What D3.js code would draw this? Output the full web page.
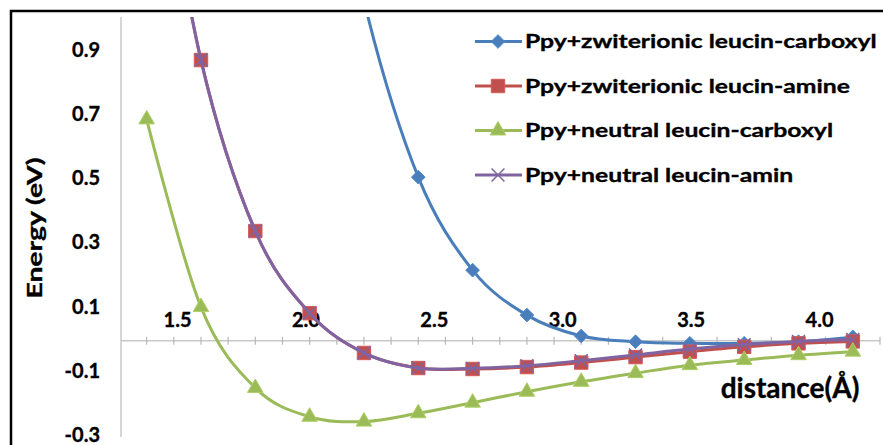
<!DOCTYPE html>
<html>
<head>
<meta charset="utf-8">
<script src="https://cdn.jsdelivr.net/npm/d3@7"></script>
<style>
  body { margin: 0; background: #fff; }
  text { font-family: Lato, 'Open Sans', sans-serif; font-weight: bold; fill: #000; stroke: #000; stroke-width: 0.35; }
</style>
</head>
<body>
<svg width="883" height="445"></svg>
<script>
const distance = [1.4, 1.6, 1.8, 2.0, 2.2, 2.4, 2.6, 2.8, 3.0, 3.2, 3.4, 3.6, 3.8, 4.0];

const zwitCarboxyl = [null, null, null, 1.9, 1.06, 0.51, 0.22, 0.08, 0.015, -0.003, -0.008, -0.008, -0.003, 0.012];
const zwitAmine = [1.8, 0.875, 0.342, 0.086, -0.038, -0.085, -0.088, -0.082, -0.068, -0.051, -0.034, -0.019, -0.008, -0.002];
const neutCarboxyl = [0.69, 0.105, -0.147, -0.237, -0.252, -0.226, -0.193, -0.159, -0.128, -0.101, -0.076, -0.06, -0.045, -0.034];
const neutAmin = [1.8, 0.875, 0.342, 0.086, -0.038, -0.085, -0.086, -0.078, -0.062, -0.044, -0.026, -0.012, -0.002, 0.004];

const seriesNames = [
    'Ppy+zwiterionic leucin-carboxyl',
    'Ppy+zwiterionic leucin-amine',
    'Ppy+neutral leucin-carboxyl',
    'Ppy+neutral leucin-amin'
];
const yTicks = [-0.3, -0.1, 0.1, 0.3, 0.5, 0.7, 0.9];
const xTickLabels = [1.5, 2.0, 2.5, 3.0, 3.5, 4.0];

const svg = d3.select('svg');

const series = [
    {name: seriesNames[0], values: zwitCarboxyl, color: '#4a7ebb', marker: 'diamond'},
    {name: seriesNames[1], values: zwitAmine, color: '#c0504d', marker: 'square'},
    {name: seriesNames[2], values: neutCarboxyl, color: '#9bbb59', marker: 'triangle'},
    {name: seriesNames[3], values: neutAmin, color: '#8064a2', marker: 'cross'}
];

const plot = {left: 121, right: 880, top: 17, bottom: 437};

const xScale = d3.scaleLinear().domain([1.3, 4.1]).range([119.5, 880]);
const yScale = d3.scaleLinear().domain([-0.3, 1.0]).range([437, 19.95]);
// tick labels in the source sit on their own spacing
const labelScale = d3.scaleLinear().domain([1.5, 4.0]).range([177, 819]);

// plain hyphen minus, like the source
const fmt = d => d.toFixed(1);

// stretch text horizontally to match the source glyph widths
const stretch = (sel, k) => sel.each(function () {
    const len = this.getComputedTextLength();
    d3.select(this).attr('textLength', len * k).attr('lengthAdjust', 'spacingAndGlyphs');
});

// frame
svg.append('rect')
    .attr('x', 11).attr('y', 11)
    .attr('width', 890).attr('height', 450)
    .attr('fill', 'none')
    .attr('stroke', '#000')
    .attr('stroke-width', 2.5);

// y axis
const yAxisG = svg.append('g').attr('transform', `translate(${plot.left},-2)`)
    .call(d3.axisLeft(yScale).tickValues(yTicks).tickSize(0).tickPadding(21)
        .tickFormat(fmt));
yAxisG.select('.domain').remove();
yAxisG.selectAll('text')
    .attr('font-size', 20)
    .attr('font-family', null)
    .attr('fill', null);
svg.append('line')
    .attr('x1', plot.left).attr('x2', plot.left)
    .attr('y1', plot.top).attr('y2', plot.bottom)
    .attr('stroke', '#c8c8c8').attr('stroke-width', 1.5);

// x axis at zero
const xAxisG = svg.append('g').attr('transform', `translate(0,${yScale(0)})`);
xAxisG.append('line')
    .attr('x1', plot.left).attr('x2', plot.right)
    .attr('stroke', '#c8c8c8').attr('stroke-width', 1.5);
xAxisG.selectAll('.tick-mark')
    .data(d3.range(14, 42).map(i => i / 10))
    .join('line')
    .attr('class', 'tick-mark')
    .attr('x1', d => xScale(d)).attr('x2', d => xScale(d))
    .attr('y1', -4).attr('y2', 4)
    .attr('stroke', '#b8b8b8').attr('stroke-width', 1.2);

svg.append('g').attr('transform', `translate(0,${yScale(0) - 16})`)
    .call(d3.axisTop(labelScale).tickValues(xTickLabels).tickSize(0).tickPadding(0)
        .tickFormat(fmt))
    .call(g => g.select('.domain').remove())
    .selectAll('text')
    .attr('font-size', 20)
    .attr('font-family', null)
    .attr('fill', null)
    .attr('dy', '0.1em');

// series
svg.append('clipPath').attr('id', 'plot-clip')
    .append('rect')
    .attr('x', plot.left).attr('y', plot.top)
    .attr('width', plot.right - plot.left).attr('height', plot.bottom - plot.top);

const lineGen = d3.line()
    .defined(d => d[1] !== null)
    .x(d => xScale(d[0]))
    .y(d => yScale(d[1]))
    .curve(d3.curveCatmullRom.alpha(0));

const markerPath = {
    diamond: d3.symbol(d3.symbolDiamond2, 120),
    square: d3.symbol(d3.symbolSquare, 180),
    triangle: d3.symbol(d3.symbolTriangle, 105),
    cross: d3.symbol(d3.symbolTimes, 110)
};

const drawMarker = (sel, s) => {
    const isCross = s.marker === 'cross';
    sel.attr('d', markerPath[s.marker])
        .attr('fill', isCross ? 'none' : s.color)
        .attr('stroke', isCross ? s.color : d3.color(s.color).brighter(0.3))
        .attr('stroke-width', isCross ? 1.5 : 1);
};

const plotG = svg.append('g').attr('clip-path', 'url(#plot-clip)');

series.forEach(s => {
    const pts = distance.map((d, i) => [d, s.values[i]]);
    const g = plotG.append('g');
    g.append('path')
        .attr('d', lineGen(pts))
        .attr('fill', 'none')
        .attr('stroke', s.color)
        .attr('stroke-width', 3);
    g.selectAll('path.marker')
        .data(pts.filter(p => p[1] !== null))
        .join('path')
        .attr('class', 'marker')
        .attr('transform', p => `translate(${xScale(p[0])},${yScale(p[1])})`)
        .call(drawMarker, s);
});

// legend
const legendY = d3.scalePoint().domain(seriesNames).range([41.5, 175]);
const legend = svg.append('g');
series.forEach(s => {
    const row = legend.append('g').attr('transform', `translate(0,${legendY(s.name)})`);
    row.append('line')
        .attr('x1', 475).attr('x2', 522)
        .attr('stroke', s.color).attr('stroke-width', 3);
    row.append('path')
        .attr('transform', 'translate(498,0)')
        .call(drawMarker, s);
    row.append('text')
        .attr('x', 525)
        .attr('dy', '0.35em')
        .attr('font-size', 19)
        .text(s.name)
        .call(stretch, 1.3);
});

// axis titles
svg.append('text')
    .attr('transform', 'translate(790,398)')
    .attr('text-anchor', 'middle')
    .attr('font-size', 28)
    .text('distance(Å)');

svg.append('text')
    .attr('transform', 'translate(42,228) rotate(-90)')
    .attr('text-anchor', 'middle')
    .attr('font-size', 21)
    .text('Energy (eV)')
    .call(stretch, 1.35);
</script>
</body>
</html>
